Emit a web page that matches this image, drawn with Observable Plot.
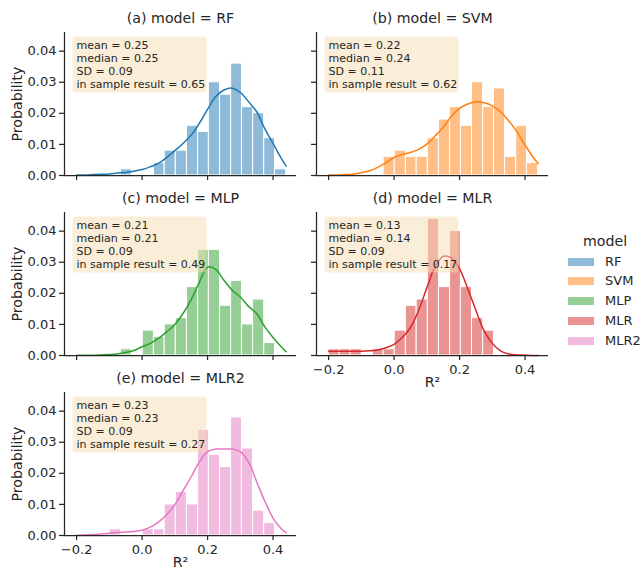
<!DOCTYPE html>
<html><head><meta charset="utf-8">
<script src="https://cdn.jsdelivr.net/npm/d3@7"></script>
<script src="https://cdn.jsdelivr.net/npm/@observablehq/plot@0.6"></script>
<style>
body{margin:0;background:#fff;font-family:"DejaVu Sans",sans-serif;color:#262626;}
#chart{position:relative;width:641px;height:570px;overflow:hidden;background:#fff;}
.cell{position:absolute;}
.cell svg{background:transparent;overflow:visible;display:block;}
.lg{position:absolute;white-space:nowrap;}
</style></head><body><div id="chart"></div><script>
// ---------- data ----------
const models = ["RF", "SVM", "MLP", "MLR", "MLR2"];
const titles = ["(a) model = RF", "(b) model = SVM", "(c) model = MLP", "(d) model = MLR", "(e) model = MLR2"];
const colors = ["#1f77b4", "#ff7f0e", "#2ca02c", "#d62728", "#e377c2"];
const binEdges = [-0.2, -0.166, -0.133, -0.099, -0.065, -0.032, 0.002, 0.036, 0.069, 0.103, 0.137, 0.171, 0.204, 0.238, 0.272, 0.305, 0.339, 0.373, 0.406, 0.44];
const probRF   = [0, 0, 0, 0, 0.002, 0, 0, 0.004, 0.008, 0.008, 0.016, 0.014, 0.030, 0.026, 0.036, 0.022, 0.020, 0.012, 0.002];
const probSVM  = [0, 0, 0, 0, 0, 0.006, 0.008, 0.006, 0.006, 0.012, 0.018, 0.022, 0.016, 0.030, 0.022, 0.028, 0.006, 0.016, 0.004];
const probMLP  = [0, 0, 0, 0, 0.002, 0, 0.008, 0.006, 0.010, 0.012, 0.022, 0.034, 0.034, 0.016, 0.024, 0.010, 0.018, 0.004, 0];
const probMLR  = [0.002, 0.002, 0.002, 0, 0.002, 0.002, 0.008, 0.016, 0.018, 0.044, 0.022, 0.040, 0.022, 0.012, 0.008, 0, 0, 0, 0];
const probMLR2 = [0, 0, 0, 0.002, 0, 0, 0.002, 0.002, 0.010, 0.014, 0.010, 0.034, 0.026, 0.022, 0.038, 0.028, 0.008, 0.004, 0];
const kdeX = [-0.2, -0.175, -0.15, -0.125, -0.1, -0.075, -0.05, -0.025, 0, 0.025, 0.05, 0.075, 0.1, 0.125, 0.15, 0.175, 0.2, 0.225, 0.25, 0.275, 0.3, 0.325, 0.35, 0.375, 0.4, 0.425, 0.44];
const kdeRF   = [0.0002, 0.0002, 0.0003, 0.0004, 0.0005, 0.0008, 0.0010, 0.0014, 0.0019, 0.0028, 0.0039, 0.0058, 0.0080, 0.0103, 0.0130, 0.0168, 0.0213, 0.0254, 0.0275, 0.0281, 0.0267, 0.0238, 0.0205, 0.0150, 0.0103, 0.0055, 0.0030];
const kdeSVM  = [0.0002, 0.0002, 0.0003, 0.0004, 0.0009, 0.0015, 0.0026, 0.0041, 0.0058, 0.0068, 0.0074, 0.0084, 0.0101, 0.0127, 0.0155, 0.0191, 0.0216, 0.0230, 0.0237, 0.0234, 0.0224, 0.0205, 0.0176, 0.0141, 0.0098, 0.0058, 0.0039];
const kdeMLP  = [0.0001, 0.0001, 0.0001, 0.0002, 0.0003, 0.0005, 0.0010, 0.0016, 0.0028, 0.0039, 0.0055, 0.0076, 0.0100, 0.0135, 0.0180, 0.0236, 0.0284, 0.0277, 0.0242, 0.0210, 0.0188, 0.0158, 0.0135, 0.0092, 0.0058, 0.0028, 0.0012];
const kdeMLR  = [0.0014, 0.0014, 0.0014, 0.0014, 0.0014, 0.0015, 0.0018, 0.0025, 0.0036, 0.0058, 0.0090, 0.0145, 0.0218, 0.0285, 0.0319, 0.0314, 0.0279, 0.0215, 0.0145, 0.0079, 0.0039, 0.0015, 0.0005, 0.0002, 0.0001, 0, 0];
const kdeMLR2 = [0.0001, 0.0002, 0.0003, 0.0005, 0.0007, 0.0010, 0.0011, 0.0013, 0.0017, 0.0027, 0.0043, 0.0067, 0.0099, 0.0144, 0.0189, 0.0237, 0.0269, 0.0278, 0.0278, 0.0278, 0.0269, 0.0237, 0.0173, 0.0110, 0.0056, 0.0022, 0.0009];
const statMean   = ["0.25", "0.22", "0.21", "0.13", "0.23"];
const statMedian = ["0.25", "0.24", "0.21", "0.14", "0.23"];
const statSD     = ["0.09", "0.11", "0.09", "0.09", "0.09"];
const statInSample = ["0.65", "0.62", "0.49", "0.17", "0.27"];
const xTicks = [-0.2, 0, 0.2, 0.4];
const yTicks = [0, 0.01, 0.02, 0.03, 0.04];
const xDomain = [-0.237, 0.4716];
const yDomain = [0, 0.046];

const probs = [probRF, probSVM, probMLP, probMLR, probMLR2];
const kdes = [kdeRF, kdeSVM, kdeMLP, kdeMLR, kdeMLR2];

const ink = "#262626";
const chart = document.getElementById("chart");

function statsBox(index, scales, values, dims) {
  const r = document.createElementNS("http://www.w3.org/2000/svg", "rect");
  r.setAttribute("x", dims.marginLeft + 8.5);
  r.setAttribute("y", dims.marginTop + 4.5);
  r.setAttribute("width", 134);
  r.setAttribute("height", 56);
  r.setAttribute("rx", 3);
  r.setAttribute("fill", "#f5deb3");
  r.setAttribute("fill-opacity", 0.5);
  return r;
}

function panel(i) {
  const col = i % 2, row = Math.floor(i / 2);
  const isBottom = (i === 3 || i === 4);
  const W = col === 0 ? 300 : 252;
  const ML = col === 0 ? 64 : 16;
  const MR = W - ML - 232;
  const MT = 32, FH = 143, MB = isBottom ? 40 : 10;
  const bins = probs[i].map((p, j) => ({x1: binEdges[j], x2: binEdges[j + 1], p})).filter(d => d.p > 0);
  const kde = kdeX.map((x, j) => ({x, y: kdes[i][j]}));
  const stats = `mean = ${statMean[i]}\nmedian = ${statMedian[i]}\nSD = ${statSD[i]}\nin sample result = ${statInSample[i]}`;
  const marks = [
    Plot.rect(bins, {x1: "x1", x2: "x2", y1: 0, y2: "p", fill: colors[i], fillOpacity: 0.5, stroke: "white", strokeWidth: 1}),
    Plot.line(kde, {x: "x", y: "y", stroke: colors[i], strokeWidth: 1.5, curve: "catmull-rom"}),
    Plot.ruleX([xDomain[0]], {stroke: ink, strokeWidth: 1.25}),
    Plot.ruleY([0], {stroke: ink, strokeWidth: 1.25}),
    Plot.axisX({ticks: xTicks, tickSize: 5, tickPadding: 4, stroke: ink, strokeWidth: 1.25, fill: ink, fontSize: 13, label: null,
      tickFormat: isBottom ? d3.format(".1f") : () => ""}),
    Plot.axisY({ticks: yTicks, tickSize: 5, tickPadding: 3, stroke: ink, strokeWidth: 1.25, fill: ink, fontSize: 13, label: null,
      tickFormat: col === 0 ? d3.format(".2f") : () => ""}),
    statsBox,
    Plot.text([stats], {frameAnchor: "top-left", dx: 12, dy: 7, lineAnchor: "top", lineHeight: 1.18, fontSize: 11, fill: ink, textAnchor: "start"}),
    Plot.text([titles[i]], {frameAnchor: "top", dy: -14, lineAnchor: "middle", fontSize: 14.2, fill: ink})
  ];
  if (col === 0) marks.push(Plot.text(["Probability"], {frameAnchor: "left", dx: -47, rotate: -90, fontSize: 14.2, fill: ink, textAnchor: "middle", lineAnchor: "middle"}));
  if (isBottom) marks.push(Plot.text(["R²"], {frameAnchor: "bottom", dy: 27, lineAnchor: "middle", fontSize: 14.2, fill: ink}));
  const svg = Plot.plot({
    width: W, height: MT + FH + MB,
    marginLeft: ML, marginRight: MR, marginTop: MT, marginBottom: MB,
    style: {background: "transparent", fontFamily: "DejaVu Sans", color: ink, overflow: "visible"},
    x: {domain: xDomain},
    y: {domain: yDomain},
    marks
  });
  const div = document.createElement("div");
  div.className = "cell";
  div.style.left = (col === 0 ? 0 : 300) + "px";
  div.style.top = (row * 180) + "px";
  div.appendChild(svg);
  chart.appendChild(div);
}
models.forEach((m, i) => panel(i));

// legend
const lt = document.createElement("div");
lt.className = "lg";
lt.textContent = "model";
lt.style.cssText += "left:583px;top:233px;font-size:14.2px;width:40px;text-align:center;";
chart.appendChild(lt);
models.forEach((m, k) => {
  const cy = 261.7 + k * 19.75;
  const sw = document.createElement("div");
  sw.className = "lg";
  const c = d3.color(colors[k]); c.opacity = 0.5;
  sw.style.cssText += `left:568px;top:${cy - 4}px;width:26px;height:8px;background:${c.formatRgb()};`;
  chart.appendChild(sw);
  const lb = document.createElement("div");
  lb.className = "lg";
  lb.textContent = m;
  lb.style.cssText += `left:605px;top:${cy - 8}px;font-size:13px;line-height:16px;`;
  chart.appendChild(lb);
});
</script></body></html>
